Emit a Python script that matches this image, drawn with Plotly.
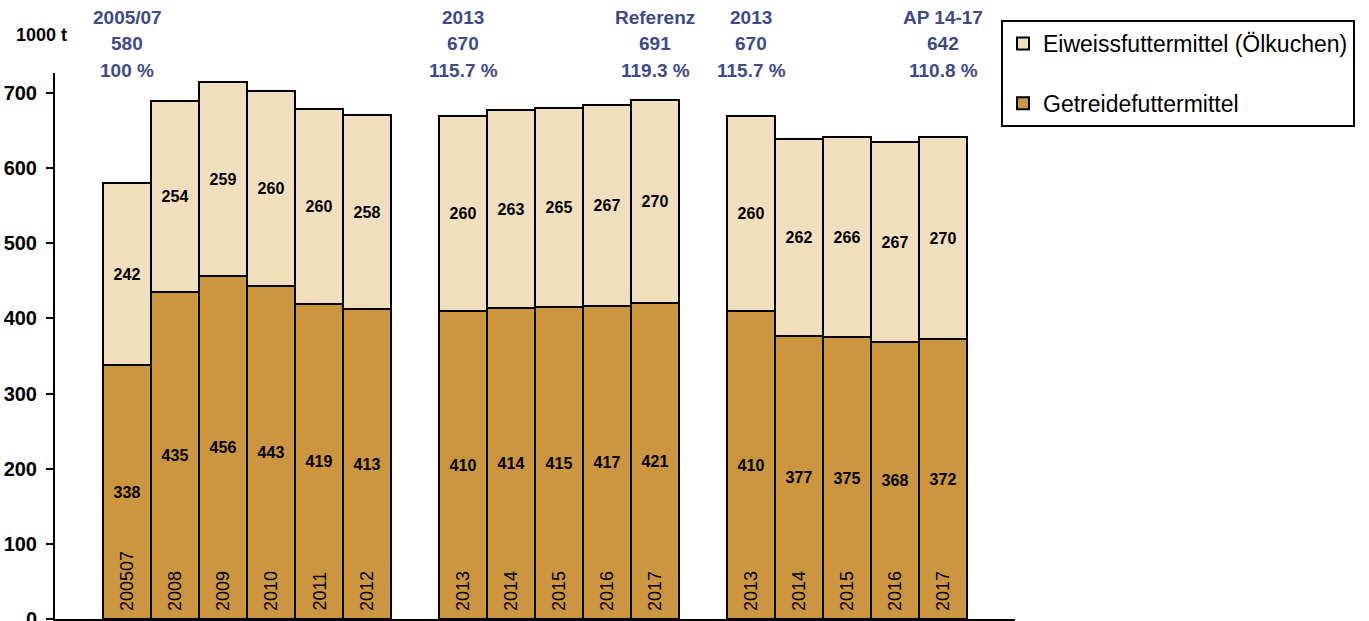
import plotly.graph_objects as go

# ---- data ----
categories = ["200507", "2008", "2009", "2010", "2011", "2012",
              "2013", "2014", "2015", "2016", "2017",
              "2013", "2014", "2015", "2016", "2017"]
group_sizes = [6, 5, 5]
getreide = [338, 435, 456, 443, 419, 413, 410, 414, 415, 417, 421, 410, 377, 375, 368, 372]
eiweiss = [242, 254, 259, 260, 260, 258, 260, 263, 265, 267, 270, 260, 262, 266, 267, 270]

header_bar = [0, 6, 10, 11, 15]
header_title = ["2005/07", "2013", "Referenz", "2013", "AP 14-17"]
header_total = ["580", "670", "691", "670", "642"]
header_pct = ["100 %", "115.7 %", "119.3 %", "115.7 %", "110.8 %"]

# ---- layout helpers ----
FONT = "Liberation Sans, Arial, sans-serif"
C_LIGHT = "#F0DEBD"
C_DARK = "#CC963E"
C_HEAD = "#3F4A8A"

# slot positions: one empty slot before, between groups, after
xpos = []
slot = 1
for g in group_sizes:
    for _ in range(g):
        xpos.append(slot + 0.5)
        slot += 1
    slot += 1
n_slots = slot  # includes trailing empty slot

fig = go.Figure()
fig.add_trace(go.Bar(
    x=xpos, y=eiweiss, name="Eiweissfuttermittel (Ölkuchen)", legendgroup="e",
    base=getreide, legendrank=1,
    width=1, marker=dict(color=C_LIGHT, line=dict(color="black", width=2)),
    text=[str(v) for v in eiweiss], textposition="inside",
    insidetextanchor="middle", textangle=0, constraintext="none",
    textfont=dict(family=FONT, size=16, color="black", weight="bold"),
    hoverinfo="skip"))
fig.add_trace(go.Bar(
    x=xpos, y=getreide, name="Getreidefuttermittel", legendgroup="g",
    legendrank=2,
    width=1, marker=dict(color=C_DARK, line=dict(color="black", width=2)),
    text=[str(v) for v in getreide], textposition="inside",
    insidetextanchor="middle", textangle=0, constraintext="none",
    textfont=dict(family=FONT, size=16, color="black", weight="bold"),
    hoverinfo="skip"))

annotations = []
# year labels inside bars
for x, c in zip(xpos, categories):
    annotations.append(dict(x=x, y=0, xref="x", yref="y", text=c, textangle=-90,
                            showarrow=False, xanchor="center", yanchor="bottom",
                            yshift=6, font=dict(family=FONT, size=18, color="black")))

# header annotations
PLOT_TOP = 73
PLOT_BOTTOM = 619
PH = PLOT_BOTTOM - PLOT_TOP
def ypaper(py):
    return (PLOT_BOTTOM - py) / PH

for bi, t, tot, pct in zip(header_bar, header_title, header_total, header_pct):
    for txt, py in zip([t, tot, pct], [18, 44, 70]):
        annotations.append(dict(x=xpos[bi], y=ypaper(py), xref="x", yref="paper",
                                text=txt, showarrow=False, xanchor="center",
                                yanchor="middle",
                                font=dict(family=FONT, size=19, color=C_HEAD, weight="bold")))

annotations.append(dict(x=-0.014, y=ypaper(35), xref="paper", yref="paper", text="1000 t",
                        showarrow=False, xanchor="center", yanchor="middle",
                        font=dict(family=FONT, size=18, color="black", weight="bold")))

fig.update_layout(
    width=1369, height=621,
    margin=dict(l=55, r=1369 - 1015, t=PLOT_TOP, b=621 - PLOT_BOTTOM, autoexpand=False),
    paper_bgcolor="white", plot_bgcolor="white",
    barmode="overlay", bargap=0,
    showlegend=True,
    legend=dict(x=(1001 - 55) / 960, y=ypaper(20), xanchor="left", yanchor="top",
                bordercolor="black", borderwidth=2, bgcolor="white",
                font=dict(family=FONT, size=23, color="black"),
                traceorder="grouped", tracegroupgap=27,
                itemsizing="constant"),
    xaxis=dict(range=[0, n_slots], showticklabels=False, ticks="", showgrid=False,
               zeroline=False, showline=True, linecolor="black", linewidth=3,
               fixedrange=True),
    yaxis=dict(range=[0, 700 * PH / (PLOT_BOTTOM - 93)], dtick=100, tick0=0,
               showgrid=False, zeroline=False, showline=True, linecolor="black",
               linewidth=2, ticks="outside", ticklen=7, tickwidth=2, tickcolor="black",
               ticklabelstandoff=5, ticklabeloverflow="allow",
               tickfont=dict(family=FONT, size=20, color="black", weight="bold"),
               fixedrange=True),
    annotations=annotations,
)

fig.write_html("out.html")
